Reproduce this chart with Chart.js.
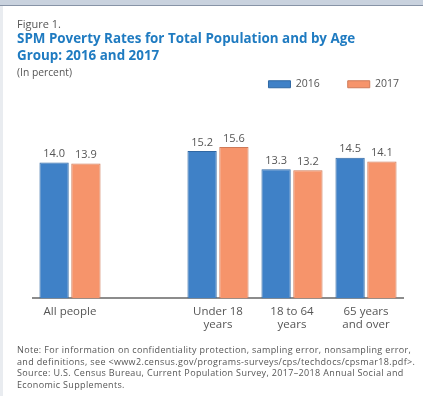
<!DOCTYPE html>
<html><head><meta charset="utf-8">
<script src="https://cdn.jsdelivr.net/npm/chart.js@4/dist/chart.umd.min.js"></script>
<style>
html,body{margin:0;padding:0;background:#fff;}
#wrap{position:relative;width:423px;height:396px;overflow:hidden;background:#fff;font-family:"Open Sans",sans-serif;}
#topband{position:absolute;left:0;top:0;width:423px;height:5px;background:#c9d2de;border-bottom:1px solid #8793a6;}
#leftband{position:absolute;left:0;top:6px;width:3px;height:390px;background:#e9ecf0;}
.t{position:absolute;left:17px;white-space:nowrap;}
#fig{top:16px;font-size:11px;color:#555;}
#title{top:30px;font-size:13.4px;font-weight:700;color:#1f7bc1;line-height:17px;}
#unit{top:65px;font-size:10.3px;color:#555;}
#note{top:344px;font-size:9px;letter-spacing:0.35px;color:#555;line-height:11.6px;}
canvas{position:absolute;left:0;top:0;}
</style></head>
<body><div id="wrap">
<div id="topband"></div><div id="leftband"></div>
<canvas id="c" width="423" height="396"></canvas>
<div class="t" id="fig">Figure 1.</div>
<div class="t" id="title">SPM Poverty Rates for Total Population and by Age<br>Group: 2016 and 2017</div>
<div class="t" id="unit">(In percent)</div>
<div class="t" id="note">Note: For information on confidentiality protection, sampling error, nonsampling error,<br>and definitions, see &lt;www2.census.gov/programs-surveys/cps/techdocs/cpsmar18.pdf&gt;.<br>Source: U.S. Census Bureau, Current Population Survey, 2017–2018 Annual Social and<br>Economic Supplements.</div>
</div>
<script>
const categories = ['All people', '', ['Under 18','years'], ['18 to 64','years'], ['65 years','and over']];
const values2016 = [14.0, null, 15.2, 13.3, 14.5];
const values2017 = [13.9, null, 15.6, 13.2, 14.1];
const seriesNames = ['2016', '2017'];

const valueLabels = {
  id: 'valueLabels',
  afterDatasetsDraw(chart) {
    const ctx = chart.ctx;
    ctx.save();
    ctx.font = '11px "Open Sans", sans-serif';
    ctx.fillStyle = '#555';
    ctx.textAlign = 'center';
    ctx.textBaseline = 'bottom';
    chart.data.datasets.forEach((ds, i) => {
      chart.getDatasetMeta(i).data.forEach((el, j) => {
        const v = ds.data[j];
        if (v == null) return;
        ctx.fillText(v.toFixed(1), el.x, el.y - 3);
      });
    });
    ctx.restore();
  }
};

const legendShift = {
  id: 'legendShift',
  afterLayout(chart) {
    if (chart.legend) { chart.legend.left += 24; chart.legend.right += 24; }
  }
};

new Chart(document.getElementById('c'), {
  type: 'bar',
  data: {
    labels: categories,
    datasets: [
      { label: seriesNames[0], data: values2016, backgroundColor: '#3f81c7', borderColor: '#2f67a3', borderWidth: 1 },
      { label: seriesNames[1], data: values2017, backgroundColor: '#f6946b', borderColor: '#cf7a58', borderWidth: 1 }
    ]
  },
  options: {
    responsive: false,
    animation: false,
    devicePixelRatio: 1,
    layout: { padding: { left: 33, right: 20, top: 51, bottom: 58 } },
    datasets: { bar: { categoryPercentage: 0.86, barPercentage: 0.92 } },
    plugins: {
      legend: {
        display: true, position: 'top', align: 'end',
        labels: { boxWidth: 22, boxHeight: 7, color: '#555', font: { size: 10.5, family: '"Open Sans", sans-serif' }, padding: 28 }
      },
      tooltip: { enabled: false },
      title: { display: false }
    },
    scales: {
      x: {
        grid: { display: false, drawTicks: false },
        border: { display: true, color: '#8c8c8c', width: 2 },
        ticks: { color: '#555', font: { size: 11.5, family: '"Open Sans", sans-serif' }, padding: 6, maxRotation: 0, autoSkip: false }
      },
      y: { display: false, min: 0, max: 20.5 }
    }
  },
  plugins: [valueLabels, legendShift]
});
</script>
</body></html>
